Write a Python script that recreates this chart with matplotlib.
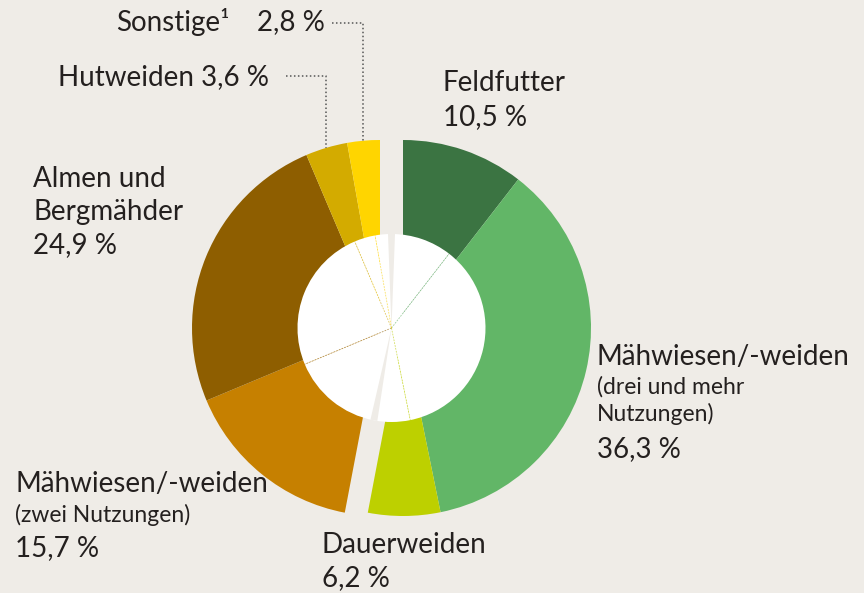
import matplotlib.pyplot as plt
import numpy as np

plt.rcParams['font.family'] = ['Lato', 'DejaVu Sans']

# data
shares = [10.5, 36.3, 6.2, 15.7, 24.9, 3.6, 2.8]
colors = ["#3b7442", "#62b667", "#bdd000", "#c68000", "#8e5e00", "#d3ab00", "#ffd500"]
n_green = 3   # first three slices form the green group
bg = "#efece7"

W, H = 864, 593
cx, cy, rx, ry = 391.5, 328, 188, 188   # pie centre / radii in pixels
shift = 11.5 / rx                        # sideways offset of both groups
r_in = 0.5

fig = plt.figure(figsize=(W / 100, H / 100), dpi=100, facecolor=bg)
ax = fig.add_axes([0, 0, 1, 1])
ax.set_facecolor(bg)

wprops = dict(linewidth=0, antialiased=True)
green_cols = colors[:n_green] + ["none"] * (len(shares) - n_green)
brown_cols = ["none"] * n_green + colors[n_green:]
ax.pie(shares, colors=green_cols, startangle=90, counterclock=False,
       radius=1.0, center=(shift, 0), wedgeprops=wprops, frame=True)
ax.pie(shares, colors=brown_cols, startangle=90, counterclock=False,
       radius=1.0, center=(-shift, 0), wedgeprops=wprops, frame=True)
ax.pie(shares, colors=["white"] * len(shares), startangle=90,
       counterclock=False, radius=r_in, wedgeprops=wprops, frame=True)

total = sum(shares)
bounds = np.cumsum(shares) / total * 360
mids = (np.cumsum(shares) - np.array(shares) / 2) / total * 360

# faint slice borders inside the white hole
for i, b in enumerate(bounds[:-1]):
    if i == n_green - 1:
        continue
    ang = np.deg2rad(90 - b)
    ax.plot([0, r_in * np.cos(ang)], [0, r_in * np.sin(ang)],
            color=colors[i + 1], lw=0.6, alpha=0.6, ls=(0, (2, 1.5)))

# thin gap through the hole between the two groups
for b in [0, bounds[n_green - 1]]:
    ang = np.deg2rad(90 - b)
    half = 3.5 / rx
    ex, ey = r_in * np.cos(ang), r_in * np.sin(ang)
    px, py = -np.sin(ang) * half, np.cos(ang) * half
    ax.fill([0, ex + px, ex - px], [0, ey + py, ey - py], color=bg, lw=0)

ax.set_aspect('auto')
ax.set_xlim(-cx / rx, (W - cx) / rx)
ax.set_ylim((cy - H) / ry, cy / ry)
ax.axis('off')


def to_data(px, py):
    return (px - cx) / rx, (cy - py) / ry


txt = "#24201f"
big = 20
small = 16.5


def put(px, py, s, size=big, ha='left'):
    x, y = to_data(px, py)
    ax.text(x, y, s, fontsize=size, color=txt, ha=ha, va='center')


put(443, 83, "Feldfutter")
put(443, 117, "10,5 %")

put(33, 179, "Almen und")
put(33, 212, "Bergmähder")
put(33, 245, "24,9 %")

put(597, 357, "Mähwiesen/-weiden")
put(597, 387, "(drei und mehr", small)
put(597, 414, "Nutzungen)", small)
put(597, 449, "36,3 %")

put(15, 484, "Mähwiesen/-weiden")
put(15, 515, "(zwei Nutzungen)", small)
put(15, 548, "15,7 %")

put(322, 545, "Dauerweiden")
put(322, 578, "6,2 %")

put(116, 22, "Sonstige¹")
put(325, 22, "2,8 %", ha='right')
put(269, 77, "Hutweiden 3,6 %", ha='right')

# dotted leader lines for the two small slices
for idx, (lx, ly) in zip([6, 5], [(332, 23), (286, 76)]):
    ang = np.deg2rad(90 - mids[idx])
    ex, ey = np.cos(ang) - shift, np.sin(ang)
    x0, y0 = to_data(lx, ly)
    ax.plot([x0, ex, ex], [y0, y0, ey], color="#555555", lw=1.1,
            ls=(0, (1, 1.6)))

plt.savefig("out.png", dpi=100, facecolor=bg)
